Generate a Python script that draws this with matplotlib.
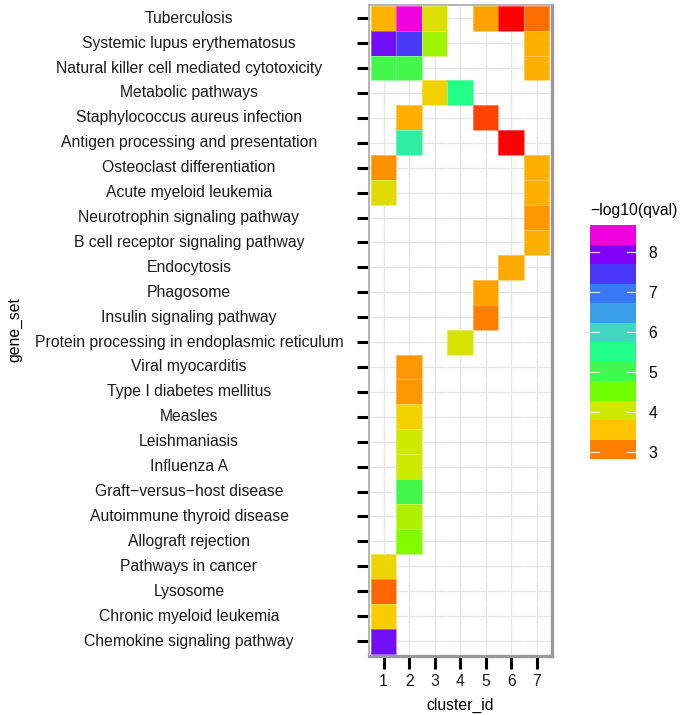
import numpy as np
import matplotlib
matplotlib.use("Agg")
import matplotlib.pyplot as plt
from matplotlib import colors, transforms

plt.rcParams['font.family'] = ['Liberation Sans', 'DejaVu Sans']

gene_sets = [
    "Tuberculosis", "Systemic lupus erythematosus",
    "Natural killer cell mediated cytotoxicity", "Metabolic pathways",
    "Staphylococcus aureus infection", "Antigen processing and presentation",
    "Osteoclast differentiation", "Acute myeloid leukemia",
    "Neurotrophin signaling pathway", "B cell receptor signaling pathway",
    "Endocytosis", "Phagosome", "Insulin signaling pathway",
    "Protein processing in endoplasmic reticulum", "Viral myocarditis",
    "Type I diabetes mellitus", "Measles", "Leishmaniasis", "Influenza A",
    "Graft\u2212versus\u2212host disease", "Autoimmune thyroid disease",
    "Allograft rejection", "Pathways in cancer", "Lysosome",
    "Chronic myeloid leukemia", "Chemokine signaling pathway",
]
clusters = [1, 2, 3, 4, 5, 6, 7]

# enriched (gene_set, cluster) pairs and their -log10(qval)
tile_sets = [
    "Tuberculosis", "Tuberculosis", "Tuberculosis", "Tuberculosis", "Tuberculosis", "Tuberculosis",
    "Systemic lupus erythematosus", "Systemic lupus erythematosus",
    "Systemic lupus erythematosus", "Systemic lupus erythematosus",
    "Natural killer cell mediated cytotoxicity", "Natural killer cell mediated cytotoxicity",
    "Natural killer cell mediated cytotoxicity",
    "Metabolic pathways", "Metabolic pathways",
    "Staphylococcus aureus infection", "Staphylococcus aureus infection",
    "Antigen processing and presentation", "Antigen processing and presentation",
    "Osteoclast differentiation", "Osteoclast differentiation",
    "Acute myeloid leukemia", "Acute myeloid leukemia",
    "Neurotrophin signaling pathway", "B cell receptor signaling pathway",
    "Endocytosis", "Phagosome", "Insulin signaling pathway",
    "Protein processing in endoplasmic reticulum", "Viral myocarditis",
    "Type I diabetes mellitus", "Measles", "Leishmaniasis", "Influenza A",
    "Graft\u2212versus\u2212host disease", "Autoimmune thyroid disease",
    "Allograft rejection", "Pathways in cancer", "Lysosome",
    "Chronic myeloid leukemia", "Chemokine signaling pathway",
]
tile_clusters = [
    1, 2, 3, 5, 6, 7,
    1, 2, 3, 7,
    1, 2, 7,
    3, 4,
    2, 5,
    2, 6,
    1, 7,
    1, 7,
    7, 7,
    6, 5, 5,
    4, 2,
    2, 2, 2, 2,
    2, 2,
    2, 1, 1,
    1, 1,
]
tile_values = [
    3.67, 8.68, 4.16, 3.54, 2.83, 3.26,
    8.05, 7.68, 4.54, 3.64,
    5.25, 5.25, 3.64,
    3.95, 5.74,
    3.64, 3.10,
    5.97, 2.83,
    3.43, 3.64,
    4.13, 3.64,
    3.48, 3.64,
    3.59, 3.54, 3.32,
    4.22, 3.48,
    3.48, 3.97, 4.30, 4.30,
    5.25, 4.46,
    4.70, 4.00, 3.23,
    3.88, 8.05,
]

# rainbow palette, red -> magenta
palette = ['#FF0000', '#FF8000', '#FFC800', '#D0E800', '#70FF00', '#40F850',
           '#20FF88', '#40D8C0', '#38A0E8', '#3A78F8', '#4838F8', '#8000F8',
           '#F000DE']
rainbow = colors.LinearSegmentedColormap.from_list('rainbow_q', palette)
vmin, vmax = min(tile_values), max(tile_values)
norm = colors.Normalize(vmin, vmax)

grid = np.full((len(gene_sets), len(clusters)), np.nan)
for name, cl, v in zip(tile_sets, tile_clusters, tile_values):
    grid[gene_sets.index(name), clusters.index(cl)] = v

fig = plt.figure(figsize=(6.8, 7.15), dpi=100)
ax = fig.add_axes([369 / 680, 1 - 656 / 715, 183 / 680, 651 / 715])

xe = np.arange(len(clusters) + 1) + 0.5
ye = np.arange(len(gene_sets) + 1) - 0.5
ax.pcolormesh(xe, ye, np.ma.masked_invalid(grid), cmap=rainbow, norm=norm,
              edgecolor='#ffffff50', linewidth=0.4)

ax.set_xlim(0.43, 7.6)
ax.set_ylim(len(gene_sets) - 0.4, -0.53)
ax.set_xticks(clusters)
ax.set_xticklabels([str(c) for c in clusters], fontsize=11.3, color='#1a1a1a')
ax.set_yticks(range(len(gene_sets)))
ax.set_yticklabels([])
ax.grid(True, color='#e6e6e6', linewidth=1.0)
ax.set_axisbelow(True)
ax.tick_params(axis='both', length=9, width=2.2, color='black', pad=4)

# y labels centred in the left margin
lab_tr = transforms.blended_transform_factory(fig.transFigure, ax.transData)
for i, name in enumerate(gene_sets):
    ax.text(189 / 680, i, name, transform=lab_tr, ha='center', va='center',
            fontsize=11.3, color='#1a1a1a')

for side in ['left', 'top']:
    ax.spines[side].set_color('#b4b4b4')
    ax.spines[side].set_linewidth(1.4)
for side in ['right', 'bottom']:
    ax.spines[side].set_color('#999999')
    ax.spines[side].set_linewidth(2.4)

ax.set_xlabel('cluster_id', fontsize=11.3, labelpad=6)
fig.text(15 / 680, 1 - 330 / 715, 'gene_set', rotation=90, fontsize=11.3,
         ha='center', va='center')

# legend bar drawn in 12 bands
cax = fig.add_axes([590 / 680, 1 - 459 / 715, 46 / 680, 234 / 715])
edges = np.linspace(vmin, vmax, 13)
band = edges[1:][:, None]
cax.pcolormesh([0, 1], edges, band, cmap=rainbow, norm=norm)
cax.set_xlim(0, 1)
cax.set_ylim(vmin, vmax)
for s in cax.spines.values():
    s.set_visible(False)
cax.set_xticks([])
bar_ticks = [3, 4, 5, 6, 7, 8]
cax.set_yticks(bar_ticks)
cax.yaxis.tick_right()
cax.tick_params(axis='y', length=0, labelsize=11.3, pad=9)
for t in bar_ticks:
    cax.plot([0, 0.2], [t, t], color='white', lw=0.9, alpha=0.8)
    cax.plot([0.8, 1], [t, t], color='white', lw=0.9, alpha=0.8)
fig.text(590 / 680, 1 - 210 / 715, '\u2212log10(qval)', fontsize=11.3,
         ha='left', va='center')

fig.savefig('out.png', dpi=100)
